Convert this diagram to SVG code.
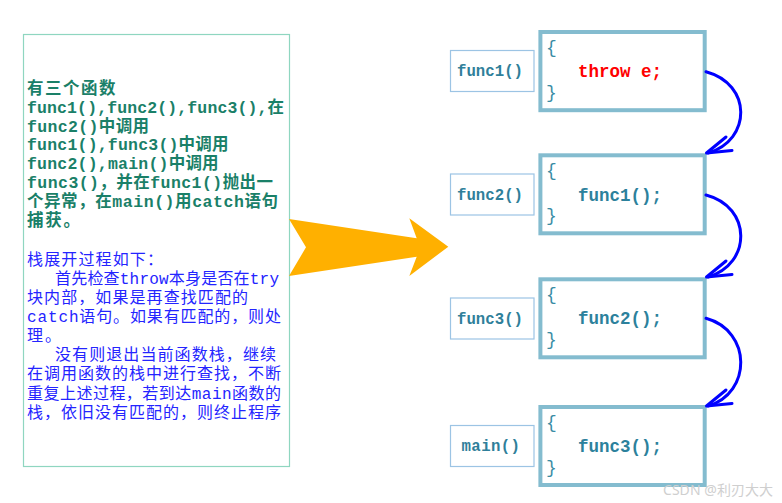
<svg xmlns="http://www.w3.org/2000/svg" width="782" height="503" viewBox="0 0 782 503">
<style>
.note{fill:#1a8068;font-family:"Liberation Mono","Noto Sans CJK SC",monospace;font-size:16.5px;font-weight:bold}
.desc{fill:#2424ff;font-family:"Liberation Mono","Noto Sans CJK SC",monospace;font-size:16px}
.lbox{fill:#fff;stroke:#9cc4e4;stroke-width:1.2}
.cbox{fill:#fff;stroke:#84bccf;stroke-width:4}
.lbl{fill:#2f7f9a;font-family:"Liberation Mono",monospace;font-size:15.7px;font-weight:bold}
.brace{fill:#3a8ca5;font-family:"Liberation Mono",monospace;font-size:18px}
.code{fill:#2c819c;font-family:"Liberation Mono",monospace;font-size:17.5px;font-weight:bold}
.throw{fill:#ff0000}
.arc{fill:none;stroke:#0000ff;stroke-width:3;stroke-linecap:round;stroke-linejoin:round}
.wm{fill:#cfcfcf;font-family:"Noto Sans","Noto Sans CJK SC",sans-serif;font-size:14px}
</style>
<rect width="782" height="503" fill="#fff"/>

<g id="explanation">
<rect x="23.5" y="34.5" width="266" height="432" fill="#fff" stroke="#8fd6c0" stroke-width="1.2"/>
<text class="note" x="27" y="94" textLength="88.5" lengthAdjust="spacing">有三个函数</text>
<text class="note" x="27" y="112.8" textLength="257" lengthAdjust="spacing">func1(),func2(),func3(),在</text>
<text class="note" x="27" y="131.6" textLength="122" lengthAdjust="spacing">func2()中调用</text>
<text class="note" x="27" y="150.4" textLength="201.5" lengthAdjust="spacing">func1(),func3()中调用</text>
<text class="note" x="27" y="169.2" textLength="191.6" lengthAdjust="spacing">func2(),main()中调用</text>
<text class="note" x="27" y="188" textLength="246" lengthAdjust="spacing">func3()，并在func1()抛出一</text>
<text class="note" x="27" y="206.8" textLength="251" lengthAdjust="spacing">个异常，在main()用catch语句</text>
<text class="note" x="27" y="225.6" textLength="53" lengthAdjust="spacing">捕获。</text>

<text class="desc" x="27" y="264.5" textLength="136" lengthAdjust="spacing">栈展开过程如下：</text>
<text class="desc" x="55" y="283.6" textLength="224" lengthAdjust="spacing">首先检查throw本身是否在try</text>
<text class="desc" x="27" y="302.8" textLength="221" lengthAdjust="spacing">块内部，如果是再查找匹配的</text>
<text class="desc" x="27" y="321.9" textLength="254" lengthAdjust="spacing">catch语句。如果有匹配的，则处</text>
<text class="desc" x="27" y="341.1" textLength="34" lengthAdjust="spacing">理。</text>
<text class="desc" x="55" y="360.2" textLength="221" lengthAdjust="spacing">没有则退出当前函数栈，继续</text>
<text class="desc" x="27" y="379.4" textLength="254" lengthAdjust="spacing">在调用函数的栈中进行查找，不断</text>
<text class="desc" x="27" y="398.5" textLength="254" lengthAdjust="spacing">重复上述过程，若到达main函数的</text>
<text class="desc" x="27" y="417.7" textLength="254" lengthAdjust="spacing">栈，依旧没有匹配的，则终止程序</text>
</g>

<g id="big-arrow">
<polygon points="289,219 416.7,238.3 409.3,218.3 448.3,246.7 409.3,276 416.7,256.7 289,276 306,247.3" fill="#ffb000"/>
</g>

<g id="func1">
<rect class="lbox" x="450.5" y="50.5" width="83.5" height="41"/>
<text class="lbl" x="457" y="76" textLength="66" lengthAdjust="spacing">func1()</text>
<rect class="cbox" x="540.4" y="32" width="164.3" height="78.2"/>
<text class="brace" x="546" y="53">{</text>
<text class="code throw" x="578" y="77" textLength="84" lengthAdjust="spacing">throw e;</text>
<text class="brace" x="546" y="98">}</text>
</g>

<g id="func2">
<rect class="lbox" x="450.5" y="174" width="83.5" height="41"/>
<text class="lbl" x="457" y="199.5" textLength="66" lengthAdjust="spacing">func2()</text>
<rect class="cbox" x="540.4" y="155.3" width="164.3" height="78"/>
<text class="brace" x="546" y="176">{</text>
<text class="code" x="578" y="200.5" textLength="84" lengthAdjust="spacing">func1();</text>
<text class="brace" x="546" y="221">}</text>
</g>

<g id="func3">
<rect class="lbox" x="450.5" y="298" width="83.5" height="41"/>
<text class="lbl" x="457" y="323.5" textLength="66" lengthAdjust="spacing">func3()</text>
<rect class="cbox" x="540.4" y="279.3" width="164.3" height="78"/>
<text class="brace" x="546" y="300">{</text>
<text class="code" x="578" y="324" textLength="84" lengthAdjust="spacing">func2();</text>
<text class="brace" x="546" y="345">}</text>
</g>

<g id="main">
<rect class="lbox" x="450.5" y="425.5" width="83.5" height="41"/>
<text class="lbl" x="461.5" y="451" textLength="58.5" lengthAdjust="spacing">main()</text>
<rect class="cbox" x="540.4" y="407" width="164.3" height="78"/>
<text class="brace" x="546" y="428">{</text>
<text class="code" x="578" y="451.5" textLength="84" lengthAdjust="spacing">func3();</text>
<text class="brace" x="546" y="473">}</text>
</g>

<g id="connectors">
<path class="arc" d="M706,71.7 C752,84 752,140 708,153"/>
<path class="arc" d="M726,137 L706.5,153 L732,150.5"/>
<path class="arc" d="M706,195 C752,207 752,264 708,277"/>
<path class="arc" d="M726,261 L706.5,277 L732,274.5"/>
<path class="arc" d="M706,318.3 C752,331 752,393 708,406"/>
<path class="arc" d="M726,390 L706.5,406 L732,403.5"/>
</g>

<text class="wm" x="663" y="495" textLength="110" lengthAdjust="spacing">CSDN @利刃大大</text>
</svg>
